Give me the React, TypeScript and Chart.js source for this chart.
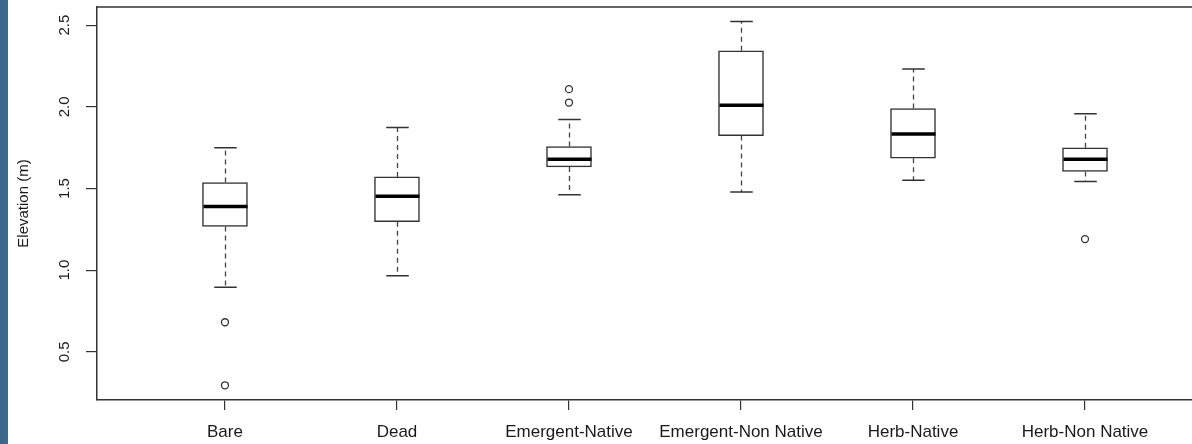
import { useEffect, useRef } from 'react';
import { Chart, registerables } from 'chart.js';

Chart.register(...registerables);

// ---- data ----
const categories = ['Bare', 'Dead', 'Emergent-Native', 'Emergent-Non Native', 'Herb-Native', 'Herb-Non Native'];
const whiskerLow = [0.896, 0.965, 1.461, 1.479, 1.551, 1.542];
const q1 = [1.267, 1.296, 1.632, 1.824, 1.685, 1.604];
const median = [1.389, 1.453, 1.679, 2.01, 1.833, 1.679];
const q3 = [1.536, 1.571, 1.757, 2.343, 1.989, 1.749];
const whiskerHigh = [1.75, 1.873, 1.922, 2.522, 2.232, 1.957];
const outlierGroup = [1, 1, 3, 3, 6];
const outlierValue = [0.681, 0.295, 2.108, 2.026, 1.19];
const yTickValues = [0.5, 1.0, 1.5, 2.0, 2.5];
const yTickLabels = ['0.5', '1.0', '1.5', '2.0', '2.5'];
const yTitle = 'Elevation (m)';
const yMin = 0.205;
const yMax = 2.611;
const xMin = 0.256;
const xMax = 6.622;

const FONT = "'Liberation Sans', Arial, sans-serif";
const LINE = '#333333';

const boxDecor = {
  id: 'boxDecor',
  afterDatasetsDraw(chart: any) {
    const { ctx, chartArea, scales } = chart;
    const x = scales.x;
    const y = scales.y;
    const meta = chart.getDatasetMeta(0);
    ctx.save();
    // top frame line
    ctx.strokeStyle = LINE;
    ctx.lineWidth = 1.5;
    ctx.beginPath();
    ctx.moveTo(chartArea.left - 0.75, chartArea.top);
    ctx.lineTo(chartArea.right, chartArea.top);
    ctx.stroke();

    categories.forEach((_, i) => {
      const cx = Math.round(x.getPixelForValue(i + 1)) + 0.5;
      const bar = meta.data[i];
      const bw = bar ? bar.width : 45;
      const capHalf = bw / 4;
      const yLo = y.getPixelForValue(whiskerLow[i]);
      const yQ1 = y.getPixelForValue(q1[i]);
      const yMed = y.getPixelForValue(median[i]);
      const yQ3 = y.getPixelForValue(q3[i]);
      const yHi = y.getPixelForValue(whiskerHigh[i]);

      // dashed whiskers
      ctx.setLineDash([5, 4]);
      ctx.lineWidth = 1.3;
      ctx.strokeStyle = '#444444';
      ctx.beginPath();
      ctx.moveTo(cx, yQ3);
      ctx.lineTo(cx, yHi);
      ctx.moveTo(cx, yQ1);
      ctx.lineTo(cx, yLo);
      ctx.stroke();

      // caps
      ctx.setLineDash([]);
      ctx.lineWidth = 1.5;
      ctx.strokeStyle = LINE;
      ctx.beginPath();
      ctx.moveTo(cx - capHalf, yHi);
      ctx.lineTo(cx + capHalf, yHi);
      ctx.moveTo(cx - capHalf, yLo);
      ctx.lineTo(cx + capHalf, yLo);
      ctx.stroke();

      // median
      ctx.lineWidth = 3.5;
      ctx.strokeStyle = '#000000';
      ctx.beginPath();
      ctx.moveTo(cx - bw / 2 + 0.5, yMed);
      ctx.lineTo(cx + bw / 2 - 0.5, yMed);
      ctx.stroke();
    });
    ctx.restore();
  },
};

export default function App() {
  const canvasRef = useRef<HTMLCanvasElement | null>(null);

  useEffect(() => {
    const canvas = canvasRef.current;
    if (!canvas) return;
    const chart = new Chart(canvas, {
      type: 'bar',
      data: {
        datasets: [
          {
            type: 'bar',
            data: categories.map((_, i) => ({ x: i + 1, y: [q1[i], q3[i]] })) as any,
            backgroundColor: '#ffffff',
            borderColor: LINE,
            borderWidth: 1.5,
            borderSkipped: false,
            barThickness: 45,
            grouped: false,
          } as any,
          {
            type: 'scatter',
            data: outlierGroup.map((g, i) => ({ x: g, y: outlierValue[i] })),
            pointRadius: 3.5,
            pointBorderWidth: 1.3,
            pointBorderColor: LINE,
            pointBackgroundColor: '#ffffff',
            pointStyle: 'circle',
          } as any,
        ],
      },
      options: {
        responsive: false,
        animation: false,
        devicePixelRatio: 1,
        layout: { autoPadding: false, padding: { left: 0, top: 7, right: 0, bottom: 0 } },
        plugins: {
          legend: { display: false },
          tooltip: { enabled: false },
        },
        scales: {
          x: {
            type: 'linear',
            min: xMin,
            max: xMax,
            offset: false,
            afterBuildTicks: (scale: any) => {
              scale.ticks = categories.map((_, i) => ({ value: i + 1 }));
            },
            afterFit: (scale: any) => {
              scale.height = 44;
              scale.paddingLeft = 0;
              scale.paddingRight = 0;
            },
            ticks: {
              autoSkip: false,
              maxRotation: 0,
              minRotation: 0,
              padding: 12,
              color: '#1a1a1a',
              font: { family: FONT, size: 17 },
              callback: (v: any) => categories[Math.round(Number(v)) - 1] ?? '',
            },
            grid: {
              display: true,
              offset: false,
              drawOnChartArea: false,
              drawTicks: true,
              tickLength: 10,
              color: LINE,
              lineWidth: 1.2,
            },
            border: { display: true, color: LINE, width: 1.5 },
          },
          y: {
            type: 'linear',
            min: yMin,
            max: yMax,
            afterBuildTicks: (scale: any) => {
              scale.ticks = yTickValues.map((v) => ({ value: v }));
            },
            afterFit: (scale: any) => {
              scale.width = 97;
              scale.paddingTop = 0;
              scale.paddingBottom = 0;
            },
            ticks: {
              autoSkip: false,
              minRotation: 90,
              maxRotation: 90,
              crossAlign: 'center',
              padding: 11,
              color: '#1a1a1a',
              font: { family: FONT, size: 15 },
              callback: (v: any) => {
                const idx = yTickValues.findIndex((t) => Math.abs(t - Number(v)) < 1e-6);
                return idx >= 0 ? yTickLabels[idx] : '';
              },
            },
            grid: {
              display: true,
              offset: false,
              drawOnChartArea: false,
              drawTicks: true,
              tickLength: 11,
              color: LINE,
              lineWidth: 1.2,
            },
            border: { display: true, color: LINE, width: 1.5 },
            title: {
              display: true,
              text: yTitle,
              color: '#1a1a1a',
              font: { family: FONT, size: 15 },
              padding: { top: 15, bottom: 0 },
            },
          },
        },
      } as any,
      plugins: [boxDecor],
    });
    return () => chart.destroy();
  }, []);

  return (
    <div
      style={{
        position: 'fixed',
        left: 0,
        top: 0,
        width: 1192,
        height: 444,
        overflow: 'hidden',
        background: 'linear-gradient(to right, #3a6687 0px, #3d6b8d 8px, #ffffff 8px)',
      }}
    >
      <canvas ref={canvasRef} width={1192} height={444} style={{ display: 'block' }} />
    </div>
  );
}
